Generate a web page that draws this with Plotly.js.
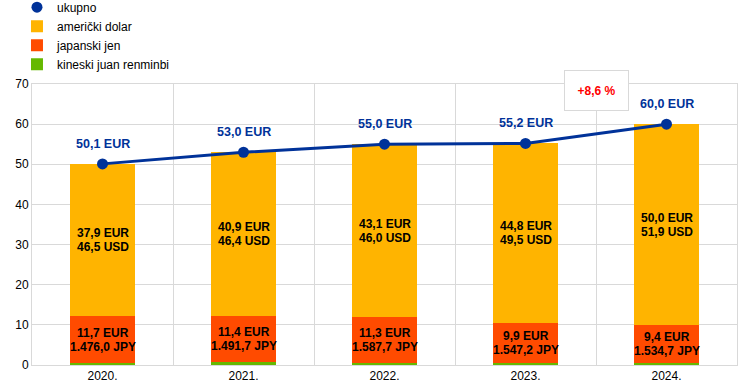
<!DOCTYPE html>
<html>
<head>
<meta charset="utf-8">
<script src="https://cdn.plot.ly/plotly-3.0.1.min.js"></script>
<style>html,body{margin:0;padding:0;background:#fff;}#chart{width:744px;height:391px;}</style>
</head>
<body>
<div id="chart"></div>
<script>
const years = ['2020.', '2021.', '2022.', '2023.', '2024.'];
const usdEur = [37.9, 40.9, 43.1, 44.8, 50.0];
const usdUsd = [46.5, 46.4, 46.0, 49.5, 51.9];
const jpyEur = [11.7, 11.4, 11.3, 9.9, 9.4];
const jpyJpy = [1476.0, 1491.7, 1587.7, 1547.2, 1534.7];
const cnyEur = [0.5, 0.7, 0.6, 0.5, 0.6];
const total = [50.1, 53.0, 55.0, 55.2, 60.0];
const changeLabel = '+8,6 %';

const FONT = 'Arial, "Liberation Sans", sans-serif';
const BLUE = '#003299', YEL = '#FFB400', ORA = '#FF4B00', GRN = '#65B800', GRID = '#d9d9d9';

function fmt(v) {
  const parts = v.toFixed(1).split('.');
  const intPart = parts[0].replace(/\B(?=(\d{3})+(?!\d))/g, '.');
  return intPart + ',' + parts[1];
}

const traces = [
  {type: 'bar', name: 'kineski juan renminbi', x: years, y: cnyEur, marker: {color: GRN}, width: 0.455, hoverinfo: 'skip'},
  {type: 'bar', name: 'japanski jen', x: years, y: jpyEur, marker: {color: ORA}, width: 0.455, hoverinfo: 'skip'},
  {type: 'bar', name: 'američki dolar', x: years, y: usdEur, marker: {color: YEL}, width: 0.455, hoverinfo: 'skip'},
  {type: 'scatter', mode: 'lines', x: years, y: total, line: {color: BLUE, width: 3}, showlegend: false, hoverinfo: 'skip'},
  {type: 'scatter', mode: 'markers', name: 'ukupno', x: years, y: total, marker: {color: BLUE, size: 11}, hoverinfo: 'skip'}
];

const labelFont = {family: FONT, size: 12, color: '#000', weight: 'bold'};
const annotations = [];
function twoLines(i, yMid, l1, l2) {
  annotations.push({x: i, y: yMid, xref: 'x', yref: 'y', showarrow: false, yshift: 7, text: l1, font: labelFont});
  annotations.push({x: i, y: yMid, xref: 'x', yref: 'y', showarrow: false, yshift: -7, text: l2, font: labelFont});
}
years.forEach((yr, i) => {
  const yJpy = cnyEur[i] + jpyEur[i] / 2;
  const yUsd = cnyEur[i] + jpyEur[i] + usdEur[i] / 2;
  twoLines(i, yJpy, fmt(jpyEur[i]) + ' EUR', fmt(jpyJpy[i]) + ' JPY');
  twoLines(i, yUsd, fmt(usdEur[i]) + ' EUR', fmt(usdUsd[i]) + ' USD');
  annotations.push({x: i, y: total[i], xref: 'x', yref: 'y', showarrow: false, yshift: 20,
    text: fmt(total[i]) + ' EUR',
    font: {family: FONT, size: 12.5, color: BLUE, weight: 'bold'}});
});
annotations.push({x: 3.5, y: 68.4, xref: 'x', yref: 'y', showarrow: false,
  text: changeLabel, width: 63, height: 39, bgcolor: '#fff', bordercolor: GRID, borderwidth: 1, borderpad: 0,
  font: {family: FONT, size: 12, color: '#FF0000', weight: 'bold'}});

const layout = {
  width: 744, height: 391,
  margin: {l: 32, r: 7, t: 84, b: 26, autoexpand: false},
  paper_bgcolor: '#fff', plot_bgcolor: '#fff',
  font: {family: FONT, size: 12, color: '#000'},
  barmode: 'stack',
  xaxis: {type: 'category', range: [-0.5, 4.5], tickson: 'boundaries', ticks: '', showgrid: true, gridcolor: GRID, gridwidth: 1,
    showline: true, linecolor: GRID, mirror: true, tickfont: {size: 12}, fixedrange: true},
  yaxis: {range: [0, 70], dtick: 10, showgrid: true, gridcolor: GRID, gridwidth: 1, zeroline: false,
    showline: true, linecolor: GRID, mirror: true, ticks: '', ticklen: 0, tickfont: {size: 12}, fixedrange: true},
  showlegend: true,
  legend: {xref: 'paper', yref: 'paper', x: -0.0213, y: 1.325, xanchor: 'left', yanchor: 'top',
    traceorder: 'reversed', font: {size: 12, color: '#000'}, tracegroupgap: 0, bgcolor: 'rgba(0,0,0,0)'},
  annotations: annotations
};

Plotly.newPlot('chart', traces, layout, {displayModeBar: false, staticPlot: true});
</script>
</body>
</html>
